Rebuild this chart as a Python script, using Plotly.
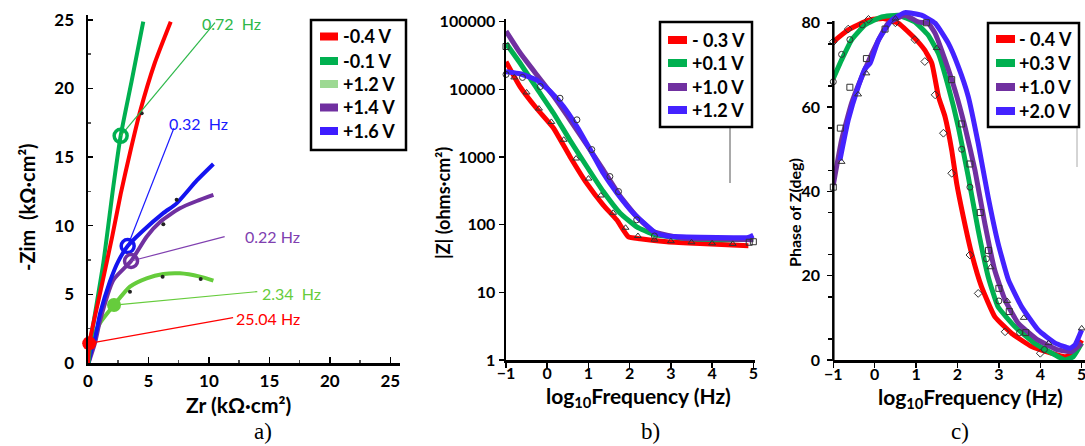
import plotly.graph_objects as go

W, H = 1085, 446

def fx(p):
    return p / W

def fy(p):
    return 1 - p / H

# ---------------- Panel a : Nyquist ----------------
a_labels = ["-0.4 V", "-0.1 V", "+1.2 V", "+1.4 V", "+1.6 V"]
a_colors = ["#ff0000", "#00b050", "#66cc3c", "#7030a0", "#1414f0"]
a_legend_colors = ["#ff0000", "#00b050", "#9dd993", "#7030a0", "#3d1cff"]

zr_m04 = [0.0, 0.1, 0.95, 2.0, 2.7, 3.47, 4.3, 5.5, 6.84]
zim_m04 = [0.0, 1.4, 4.9, 9.2, 12.3, 15.3, 18.3, 21.8, 24.86]
zr_m01 = [0.05, 0.2, 1.27, 2.1, 2.7, 3.6, 4.57]
zim_m01 = [0.0, 1.5, 7.3, 12.9, 16.55, 20.5, 24.86]
zr_p12 = [0.05, 0.44, 0.99, 2.15, 3.47, 4.85, 6.23, 7.6, 9.26, 10.37]
zim_p12 = [0.0, 1.9, 2.9, 4.22, 5.56, 6.17, 6.48, 6.53, 6.29, 6.0]
zr_p14 = [0.05, 0.58, 1.0, 2.1, 3.56, 4.85, 6.0, 7.6, 9.0, 10.37]
zim_p14 = [0.0, 1.45, 3.1, 6.05, 7.43, 9.2, 10.3, 11.27, 11.8, 12.24]
zr_p16 = [0.05, 0.3, 0.58, 1.0, 1.8, 2.5, 3.28, 4.5, 6.2, 7.33, 9.0, 10.37]
zim_p16 = [0.0, 1.0, 1.8, 3.6, 5.9, 7.4, 8.52, 9.6, 10.9, 11.63, 13.3, 14.5]

a_exp_zr = [3.47, 6.17, 9.32, 6.23, 7.33, 4.44]
a_exp_zim = [5.19, 6.29, 6.12, 10.1, 11.9, 18.2]

f_labels = ["0.72\u00a0 Hz", "0.32\u00a0 Hz", "0.22 Hz", "2.34\u00a0 Hz", "25.04 Hz"]
f_colors = ["#2db84a", "#1a1aff", "#8040b0", "#66cc3c", "#ff0000"]
f_zr = [2.7, 3.28, 3.56, 2.15, 0.1]
f_zim = [16.55, 8.52, 7.43, 4.22, 1.43]
f_end_zr = [10.5, 7.1, 11.3, 14.0, 12.0]
f_end_zim = [24.8, 17.1, 9.2, 5.2, 3.3]
f_text_zr = [9.26, 6.51, 12.8, 14.23, 12.1]
f_text_zim = [24.74, 17.46, 9.2, 5.08, 3.25]
f_symbols = ["circle-open", "circle-open", "circle-open", "circle", "circle"]

# ---------------- Panel b : |Z| ----------------
b_labels = ["- 0.3 V", "+0.1 V", "+1.0 V", "+1.2 V"]
b_colors = ["#ff0000", "#00b050", "#7030a0", "#4422ff"]

lf_b_m03 = [-1.0, -0.66, -0.26, 0.15, 0.55, 0.96, 1.36, 1.69, 1.97, 2.25, 2.9, 3.71, 4.88]
z_b_m03 = [25700, 11000, 5250, 2690, 1020, 407, 195, 117, 66, 62, 56, 52.5, 49]
lf_b_p01 = [-1.0, -0.66, -0.26, 0.15, 0.55, 0.96, 1.36, 1.77, 2.17, 2.58, 3.3, 4.12, 5.0]
z_b_p01 = [47900, 24500, 10500, 4470, 1780, 724, 309, 148, 93, 72, 63, 60, 61]
lf_b_p10 = [-1.0, -0.66, -0.26, 0.15, 0.55, 0.96, 1.36, 1.77, 2.17, 2.58, 3.3, 4.12, 5.0]
z_b_p10 = [72400, 34700, 16600, 7940, 3550, 1510, 646, 263, 132, 79, 63, 62, 60]
lf_b_p12 = [-1.0, -0.66, -0.26, 0.07, 0.39, 0.72, 1.04, 1.36, 1.69, 2.09, 2.62, 2.9, 3.71, 4.52, 4.88, 5.0]
z_b_p12 = [18200, 17000, 13800, 9330, 5620, 2820, 1290, 575, 295, 148, 76, 68, 65, 64, 65, 70]

b_tri_lf = [-0.8, -0.5, -0.2, 0.1, 0.4, 0.7, 1.0, 1.3, 1.6, 1.9, 2.2, 2.6, 3.0, 3.5, 4.0, 4.5]
b_tri_z = [15000, 9000, 5200, 3300, 1800, 950, 480, 270, 150, 90, 68, 60, 57, 55, 53, 52]
b_cir_lf = [-1.0, -0.6, -0.17, 0.31, 0.72, 1.08, 1.52, 1.73, 2.17, 2.6]
b_cir_z = [16600, 15000, 11000, 7400, 3550, 1290, 515, 309, 118, 68]
b_sq_lf = [-1.0, 4.9, 5.0]
b_sq_z = [43000, 55, 56]

# ---------------- Panel c : phase ----------------
c_labels = ["- 0.4 V", "+0.3 V", "+1.0 V", "+2.0 V"]
c_colors = ["#ff0000", "#00b050", "#7030a0", "#4422ff"]

lf_c_m04 = [-1.0, -0.64, -0.15, 0.21, 0.57, 0.97, 1.21, 1.38, 1.54, 1.7, 1.86, 1.98, 2.14, 2.34, 2.58, 2.9, 3.31, 3.79, 4.28, 4.6, 4.8, 5.0]
ph_c_m04 = [75.5, 78.3, 80.6, 81.0, 79.9, 76.3, 73.5, 70.4, 62.5, 57.7, 49.8, 41.9, 34.0, 25.3, 17.4, 10.3, 6.3, 3.2, 1.6, 0.8, 1.6, 4.7]
lf_c_p03 = [-1.0, -0.8, -0.56, -0.23, 0.17, 0.57, 0.97, 1.29, 1.54, 1.78, 2.02, 2.26, 2.5, 2.74, 2.98, 3.39, 3.87, 4.36, 4.6, 4.8, 5.0]
ph_c_p03 = [66.8, 71.2, 75.9, 79.5, 81.4, 81.8, 80.2, 77.1, 72.7, 64.8, 55.3, 43.5, 30.8, 19.8, 12.6, 7.9, 3.95, 1.2, 0.0, 0.8, 4.0]
lf_c_p10 = [-1.0, -0.8, -0.56, -0.31, 0.01, 0.33, 0.73, 1.05, 1.29, 1.46, 1.7, 1.94, 2.18, 2.42, 2.66, 2.9, 3.15, 3.47, 3.95, 4.43, 4.76, 5.0]
ph_c_p10 = [41.5, 52.2, 60.9, 67.2, 74.3, 79.9, 81.8, 80.2, 79.9, 77.5, 71.2, 64.0, 55.3, 45.1, 32.4, 21.3, 14.2, 8.7, 4.7, 2.4, 2.0, 4.0]
lf_c_p20 = [-0.84, -0.64, -0.4, -0.23, -0.11, 0.09, 0.41, 0.73, 1.13, 1.46, 1.78, 2.02, 2.26, 2.5, 2.74, 2.98, 3.23, 3.55, 3.95, 4.36, 4.72, 4.84, 5.0]
ph_c_p20 = [47.4, 56.9, 64.8, 69.2, 70.4, 75.9, 80.6, 82.4, 81.8, 79.9, 75.1, 69.6, 62.5, 51.4, 38.7, 27.7, 19.0, 12.6, 7.1, 4.0, 2.8, 3.6, 7.1]

c_dia_lf = [-1.0, -0.64, -0.15, 0.5, 0.97, 1.21, 1.46, 1.66, 1.86, 2.3, 2.5, 3.15, 4.0]
c_dia_ph = [75.5, 78.5, 80.8, 80.0, 76.0, 70.8, 62.9, 53.8, 44.3, 24.9, 15.8, 6.7, 1.6]
c_cir_lf = [-1.0, -0.8, -0.6, -0.3, 2.1, 2.3, 2.7, 3.0, 3.5, 4.1]
c_cir_ph = [66.0, 72.5, 76.0, 79.5, 50.0, 41.0, 24.0, 14.0, 6.5, 2.5]
c_sq_lf = [-1.0, -0.83, -0.6, -0.2, 0.25, 1.25, 1.86, 2.1, 2.3, 2.55, 2.75, 3.0, 3.25, 3.65]
c_sq_ph = [41.0, 55.0, 64.7, 71.5, 78.5, 80.0, 66.5, 56.0, 46.5, 35.0, 26.0, 17.0, 11.5, 6.5]
c_tri_lf = [-0.8, -0.4, -0.2, 0.5, 1.5, 2.8, 3.2, 3.6, 4.2, 5.0]
c_tri_ph = [47.0, 63.0, 68.0, 81.0, 74.0, 22.0, 14.0, 10.0, 4.0, 7.5]

FONT = "Lato"
fig = go.Figure()

# ---- panel a traces
for zr, zim, col in [(zr_p12, zim_p12, a_colors[2]), (zr_p14, zim_p14, a_colors[3]),
                     (zr_p16, zim_p16, a_colors[4]), (zr_m01, zim_m01, a_colors[1]),
                     (zr_m04, zim_m04, a_colors[0])]:
    fig.add_trace(go.Scatter(x=zr, y=zim, mode="lines", line=dict(color=col, width=4, shape="spline", smoothing=0.6),
                             xaxis="x", yaxis="y", showlegend=False, hoverinfo="skip"))
fig.add_trace(go.Scatter(x=a_exp_zr, y=a_exp_zim, mode="markers", marker=dict(color="#222222", size=4),
                         xaxis="x", yaxis="y", showlegend=False))
ring_cols = [a_colors[1], a_colors[4], a_colors[3], a_colors[2], a_colors[0]]
for i in range(len(f_labels)):
    fig.add_trace(go.Scatter(x=[f_zr[i], f_end_zr[i]], y=[f_zim[i], f_end_zim[i]], mode="lines",
                             line=dict(color=f_colors[i], width=1.2), xaxis="x", yaxis="y", showlegend=False))
    sym = f_symbols[i]
    fig.add_trace(go.Scatter(x=[f_zr[i]], y=[f_zim[i]], mode="markers", cliponaxis=False,
                             marker=dict(symbol=sym, size=13 if "open" in sym else 14,
                                         color=ring_cols[i],
                                         line=dict(width=3.5 if "open" in sym else 0, color=ring_cols[i])),
                             xaxis="x", yaxis="y", showlegend=False))

# ---- panel b traces
for lf, z, col in [(lf_b_m03, z_b_m03, b_colors[0]), (lf_b_p01, z_b_p01, b_colors[1]),
                   (lf_b_p10, z_b_p10, b_colors[2]), (lf_b_p12, z_b_p12, b_colors[3])]:
    fig.add_trace(go.Scatter(x=lf, y=z, mode="lines", line=dict(color=col, width=5, shape="spline", smoothing=0.4),
                             xaxis="x2", yaxis="y2", showlegend=False))
for lf, z, sym in [(b_tri_lf, b_tri_z, "triangle-up-open"), (b_cir_lf, b_cir_z, "circle-open"),
                   (b_sq_lf, b_sq_z, "square-open")]:
    fig.add_trace(go.Scatter(x=lf, y=z, mode="markers", cliponaxis=False,
                             marker=dict(symbol=sym, size=6, color="#333333", line=dict(width=1)),
                             xaxis="x2", yaxis="y2", showlegend=False))

# ---- panel c traces
for lf, ph, col in [(lf_c_m04, ph_c_m04, c_colors[0]), (lf_c_p03, ph_c_p03, c_colors[1]),
                    (lf_c_p10, ph_c_p10, c_colors[2]), (lf_c_p20, ph_c_p20, c_colors[3])]:
    fig.add_trace(go.Scatter(x=lf, y=ph, mode="lines", line=dict(color=col, width=5, shape="spline", smoothing=0.4),
                             xaxis="x3", yaxis="y3", showlegend=False))
for lf, ph, sym in [(c_dia_lf, c_dia_ph, "diamond-open"), (c_cir_lf, c_cir_ph, "circle-open"),
                    (c_sq_lf, c_sq_ph, "square-open"), (c_tri_lf, c_tri_ph, "triangle-up-open")]:
    fig.add_trace(go.Scatter(x=lf, y=ph, mode="markers", cliponaxis=False,
                             marker=dict(symbol=sym, size=6, color="#333333", line=dict(width=1)),
                             xaxis="x3", yaxis="y3", showlegend=False))

tf_a = dict(family=FONT, size=17, color="black", weight="bold")
tf_b = dict(family=FONT, size=16, color="black", weight="bold")
tf_c = dict(family=FONT, size=16, color="black", weight="bold")
base = dict(showline=True, linecolor="black", linewidth=2.5, showgrid=False, zeroline=False,
            tickcolor="black", tickwidth=1.5, fixedrange=True, automargin=False)

layout = dict(
    width=W, height=H, autosize=False, margin=dict(l=0, r=0, t=0, b=0, pad=0),
    paper_bgcolor="white", plot_bgcolor="white", showlegend=False, hovermode=False,
    xaxis=dict(base, domain=[fx(88), fx(400)], range=[0, 25.8], anchor="y",
               tickvals=[0, 5, 10, 15, 20, 25], ticks="inside", ticklen=6, tickfont=tf_a,
               ticklabelstandoff=1, minor=dict(dtick=2.5, ticks="inside", ticklen=3, tickcolor="#555")),
    yaxis=dict(base, domain=[fy(363), fy(15)], range=[0, 25.35], anchor="x",
               tickvals=[0, 5, 10, 15, 20, 25], ticks="inside", ticklen=5, tickfont=tf_a,
               ticklabelstandoff=8, minor=dict(dtick=2.5, ticks="inside", ticklen=3, tickcolor="#555")),
    xaxis2=dict(base, domain=[fx(506), fx(755)], range=[-1, 5.04], anchor="y2",
                tickvals=[-1, 0, 1, 2, 3, 4, 5], ticks="outside", ticklen=5, tickfont=tf_b,
                ticklabelstandoff=-8, ticklabeloverflow="allow"),
    yaxis2=dict(base, type="log", domain=[fy(360), fy(19)], range=[0, 5.04], anchor="x2",
                tickvals=[1, 10, 100, 1000, 10000, 100000],
                ticktext=["1", "10", "100", "1000", "10000", "100000"],
                ticks="outside", ticklen=5, tickfont=tf_b, ticklabelstandoff=0,
                ticklabeloverflow="allow"),
    xaxis3=dict(base, domain=[fx(833.3), 1.0], range=[-1, 5.08], anchor="y3",
                tickvals=[-1, 0, 1, 2, 3, 4, 5], ticks="outside", ticklen=5, tickfont=tf_c,
                ticklabelstandoff=-7, ticklabeloverflow="allow"),
    yaxis3=dict(base, showline=False, domain=[fy(360), fy(5.9)], range=[0, 84], anchor="x3",
                tickvals=[0, 20, 40, 60, 80], ticks="outside", ticklen=5, tickfont=tf_c,
                ticklabelstandoff=4, minor=dict(tick0=5, dtick=10, ticks="outside", ticklen=4,
                                                tickcolor="black")),
)

shapes = []
annotations = []

# y-axis line of panel c (stops at the top of the scale)
shapes.append(dict(type="line", xref="paper", yref="paper", x0=fx(833.3), x1=fx(833.3),
                   y0=fy(361), y1=fy(21), line=dict(color="black", width=2.5)))
# thin grey leftover lines under legends b and c
shapes.append(dict(type="line", xref="paper", yref="paper", x0=fx(730), x1=fx(730),
                   y0=fy(127), y1=fy(183), line=dict(color="#555555", width=1)))
shapes.append(dict(type="line", xref="paper", yref="paper", x0=fx(1077), x1=fx(1077),
                   y0=fy(127), y1=fy(167), line=dict(color="#aaaaaa", width=1)))


def legend(box, labels, colors, sw_x, txt_x, ys, size):
    x0, y0, x1, y1 = box
    shapes.append(dict(type="rect", xref="paper", yref="paper", x0=fx(x0), x1=fx(x1),
                       y0=fy(y1), y1=fy(y0), line=dict(color="black", width=2.5),
                       fillcolor="white", layer="above"))
    for lab, col, yy in zip(labels, colors, ys):
        shapes.append(dict(type="rect", xref="paper", yref="paper", x0=fx(sw_x[0]), x1=fx(sw_x[1]),
                           y0=fy(yy + 4), y1=fy(yy - 4), line=dict(width=0), fillcolor=col,
                           layer="above"))
        annotations.append(dict(xref="paper", yref="paper", x=fx(txt_x), y=fy(yy), text=lab,
                                showarrow=False, xanchor="left", yanchor="middle",
                                font=dict(family=FONT, size=size, color="black", weight="bold")))


legend((311, 20, 406, 150), a_labels, a_legend_colors, (320, 338), 341, [36.5, 61, 84, 107.5, 131], 18)
legend((660, 22, 752, 127), b_labels, b_colors, (668, 687), 690, [40, 63, 87, 110], 18)
legend((988, 23, 1079, 127), c_labels, c_colors, (996, 1015), 1017, [39, 63, 87, 111], 18)

# frequency labels in panel a
for i in range(len(f_labels)):
    annotations.append(dict(xref="x", yref="y", x=f_text_zr[i], y=f_text_zim[i], text=f_labels[i],
                            showarrow=False, xanchor="left", yanchor="middle",
                            font=dict(family=FONT, size=16, color=f_colors[i])))

# axis titles
tfont = dict(family=FONT, size=21, color="black", weight="bold")
annotations += [
    dict(xref="paper", yref="paper", x=fx(238), y=fy(404), text="Zr (kΩ·cm²)", showarrow=False,
         xanchor="center", yanchor="middle", font=tfont),
    dict(xref="paper", yref="paper", x=fx(27), y=fy(207), text="-Zim  (kΩ·cm²)", showarrow=False,
         textangle=-90, xanchor="center", yanchor="middle", font=dict(tfont, size=20)),
    dict(xref="paper", yref="paper", x=fx(638), y=fy(397), text="log<sub>10</sub>Frequency (Hz)",
         showarrow=False, xanchor="center", yanchor="middle", font=dict(tfont, size=21)),
    dict(xref="paper", yref="paper", x=fx(443), y=fy(203), text="|Z| (ohms·cm²)", showarrow=False,
         textangle=-90, xanchor="center", yanchor="middle", font=dict(tfont, size=18)),
    dict(xref="paper", yref="paper", x=fx(970), y=fy(398), text="log<sub>10</sub>Frequency (Hz)",
         showarrow=False, xanchor="center", yanchor="middle", font=dict(tfont, size=21)),
    dict(xref="paper", yref="paper", x=fx(795), y=fy(213), text="Phase of Z(deg)", showarrow=False,
         textangle=-90, xanchor="center", yanchor="middle", font=dict(tfont, size=16)),
]
serif = dict(family="Liberation Serif", size=23, color="black")
for lab, xx in [("a)", 263), ("b)", 650), ("c)", 960)]:
    annotations.append(dict(xref="paper", yref="paper", x=fx(xx), y=fy(431), text=lab, showarrow=False,
                            xanchor="center", yanchor="middle", font=serif))

layout["shapes"] = shapes
layout["annotations"] = annotations
fig.update_layout(**layout)
fig.write_html("out.html", config={"displayModeBar": False, "staticPlot": True},
               post_script="document.body.style.margin='0px';document.body.style.overflow='hidden';")
